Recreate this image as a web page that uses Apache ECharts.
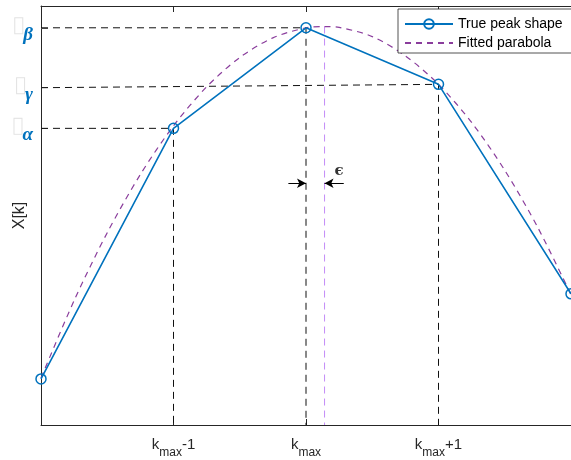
<!DOCTYPE html>
<html>
<head>
<meta charset="utf-8">
<script src="https://cdn.jsdelivr.net/npm/echarts@6/dist/echarts.min.js"></script>
<style>
  html, body { margin: 0; padding: 0; background: #fff; }
  #chart { width: 571px; height: 460px; }
</style>
</head>
<body>
<div id="chart"></div>
<script>
// Bin offsets relative to k_max and the sampled peak magnitudes
const binOffsets = [-2, -1, 0, 1, 2];
const peakMagnitudes = [1.10, 7.08, 9.48, 8.13, 3.13];

// Parabola fitted through the three bins around the maximum
const fitOffsets = [-2, -1.75, -1.5, -1.25, -1, -0.75, -0.5, -0.25, 0, 0.14, 0.25, 0.5, 0.75, 1, 1.25, 1.5, 1.75, 2];
const fitMagnitudes = [1.12, 2.97, 4.59, 5.98, 7.14, 8.07, 8.77, 9.24, 9.48, 9.51, 9.49, 9.27, 8.81, 8.13, 7.22, 6.08, 4.71, 3.11];

// Interpolated vertex of the parabola
const vertexOffset = 0.14;
const vertexMagnitude = 9.51;

// Axis ticks
const xTickValues = [-1, 0, 1];
const xTickLabels = ['{k|k}{s|max}{k|-1}', '{k|k}{s|max}', '{k|k}{s|max}{k|+1}'];
const yTickValues = [7.08, 8.05, 9.48];
const yTickLabels = ['α', 'γ', 'β'];

// ε offset arrows between the bin and the vertex
const epsLevel = 5.77;
const epsTails = [-0.133, 0.285];
const epsLabelPos = [0.25, 6.06];

const AXIS_COLOR = '#262626';
const BLUE = '#0072BD';

function pickLabel(values, labels, v) {
  for (let i = 0; i < values.length; i++) {
    if (Math.abs(values[i] - v) < 1e-6) return labels[i];
  }
  return '';
}

// Dashed guides: from the left axis across to a sample, then down to the bottom axis
const guideSeries = [
  [[-2, yTickValues[0]], [binOffsets[1], peakMagnitudes[1]], [binOffsets[1], 0]],
  [[-2, yTickValues[1]], [binOffsets[3], peakMagnitudes[3]], [binOffsets[3], 0]],
  [[-2, yTickValues[2]], [binOffsets[2], peakMagnitudes[2]], [binOffsets[2], 0]]
].map(pts => ({
  type: 'line',
  data: pts,
  symbol: 'none',
  silent: true,
  z: 1,
  lineStyle: { color: '#111', width: 1, type: [7, 5] }
}));

const chart = echarts.init(document.getElementById('chart'), null, { renderer: 'canvas' });

chart.setOption({
  animation: false,
  backgroundColor: '#fff',
  grid: { left: 41, right: 0, top: 6, bottom: 35, containLabel: false, outerBoundsMode: 'none' },
  xAxis: [
    {
      type: 'value', min: -2, max: 2, position: 'bottom',
      axisLine: { show: true, onZero: false, lineStyle: { color: AXIS_COLOR, width: 1 } },
      axisTick: { show: true, inside: true, length: 6, customValues: xTickValues, lineStyle: { color: AXIS_COLOR } },
      splitLine: { show: false },
      axisLabel: {
        customValues: xTickValues,
        margin: 12,
        formatter: v => pickLabel(xTickValues, xTickLabels, v),
        rich: {
          k: { fontFamily: 'Liberation Sans', fontSize: 15, color: AXIS_COLOR, lineHeight: 16, verticalAlign: 'top' },
          s: { fontFamily: 'Liberation Sans', fontSize: 12, color: AXIS_COLOR, lineHeight: 12, padding: [10, 0, 0, 0], verticalAlign: 'top' }
        }
      }
    },
    {
      type: 'value', min: -2, max: 2, position: 'top',
      axisLine: { show: true, onZero: false, lineStyle: { color: AXIS_COLOR, width: 1 } },
      axisTick: { show: true, inside: true, length: 6, customValues: xTickValues, lineStyle: { color: AXIS_COLOR } },
      axisLabel: { show: false },
      splitLine: { show: false }
    }
  ],
  yAxis: {
    type: 'value', min: 0, max: 10,
    name: 'X[k]', nameLocation: 'middle', nameRotate: 90, nameGap: 13, nameMoveOverlap: false,
    nameTextStyle: { fontFamily: 'Liberation Sans', fontSize: 16, color: AXIS_COLOR },
    axisLine: { show: true, onZero: false, lineStyle: { color: AXIS_COLOR, width: 1 } },
    axisTick: { show: true, inside: true, length: 7, customValues: yTickValues, lineStyle: { color: '#555' } },
    splitLine: { show: false },
    axisLabel: {
      customValues: yTickValues,
      margin: 8,
      formatter: v => '{b| }{g|' + pickLabel(yTickValues, yTickLabels, v) + '}',
      rich: {
        b: { width: 7, height: 15, borderColor: '#e2e2e2', borderWidth: 1, backgroundColor: '#fff', verticalAlign: 'top' },
        g: { fontFamily: 'Liberation Serif', fontStyle: 'italic', fontWeight: 'bold', fontSize: 19, color: BLUE,
             lineHeight: 19, padding: [7, 0, 11, 1], verticalAlign: 'top' }
      }
    }
  },
  legend: {
    orient: 'vertical', left: 398, top: 9,
    selectedMode: false,
    data: [
      { name: 'True peak shape' },
      { name: 'Fitted parabola', itemStyle: { opacity: 0 } }
    ],
    itemWidth: 48, itemHeight: 12, itemGap: 5,
    padding: [8, 24, 3, 6],
    backgroundColor: '#fff', borderColor: AXIS_COLOR, borderWidth: 0.8,
    textStyle: { fontFamily: 'Liberation Sans', fontSize: 14, color: '#000' }
  },
  series: [
    ...guideSeries,
    {
      // vertical marker at the fitted vertex
      type: 'line',
      data: [[vertexOffset, vertexMagnitude], [vertexOffset, 0]],
      symbol: 'none', silent: true, z: 1,
      lineStyle: { color: '#c48cf7', width: 1, type: [7, 5] }
    },
    {
      name: 'Fitted parabola',
      type: 'line',
      data: fitOffsets.map((k, i) => [k, fitMagnitudes[i]]),
      smooth: 0.3,
      symbol: 'none', z: 2,
      itemStyle: { color: '#8a3d9c' },
      lineStyle: { color: '#8a3d9c', width: 1.2, type: [6, 5] }
    },
    {
      name: 'True peak shape',
      type: 'line',
      data: binOffsets.map((k, i) => [k, peakMagnitudes[i]]),
      symbol: 'circle', symbolSize: 10, showAllSymbol: true, z: 3,
      itemStyle: { color: 'transparent', borderColor: BLUE, borderWidth: 1.5 },
      lineStyle: { color: BLUE, width: 1.6 }
    },
    {
      // ε label and the two offset arrows
      type: 'scatter',
      data: [epsLabelPos],
      symbolSize: 0, silent: true, z: 4,
      label: { show: true, position: 'inside', formatter: 'ϵ', fontFamily: 'DejaVu Serif', fontWeight: 'bold', fontSize: 15, color: '#000' },
      markLine: {
        silent: true,
        symbol: ['none', 'arrow'],
        symbolSize: [7, 9],
        lineStyle: { color: '#000', width: 1, type: 'solid' },
        label: { show: false },
        emphasis: { disabled: true },
        data: [
          [{ coord: [epsTails[0], epsLevel] }, { coord: [binOffsets[2], epsLevel] }],
          [{ coord: [epsTails[1], epsLevel] }, { coord: [vertexOffset, epsLevel] }]
        ]
      }
    }
  ]
});
</script>
</body>
</html>
